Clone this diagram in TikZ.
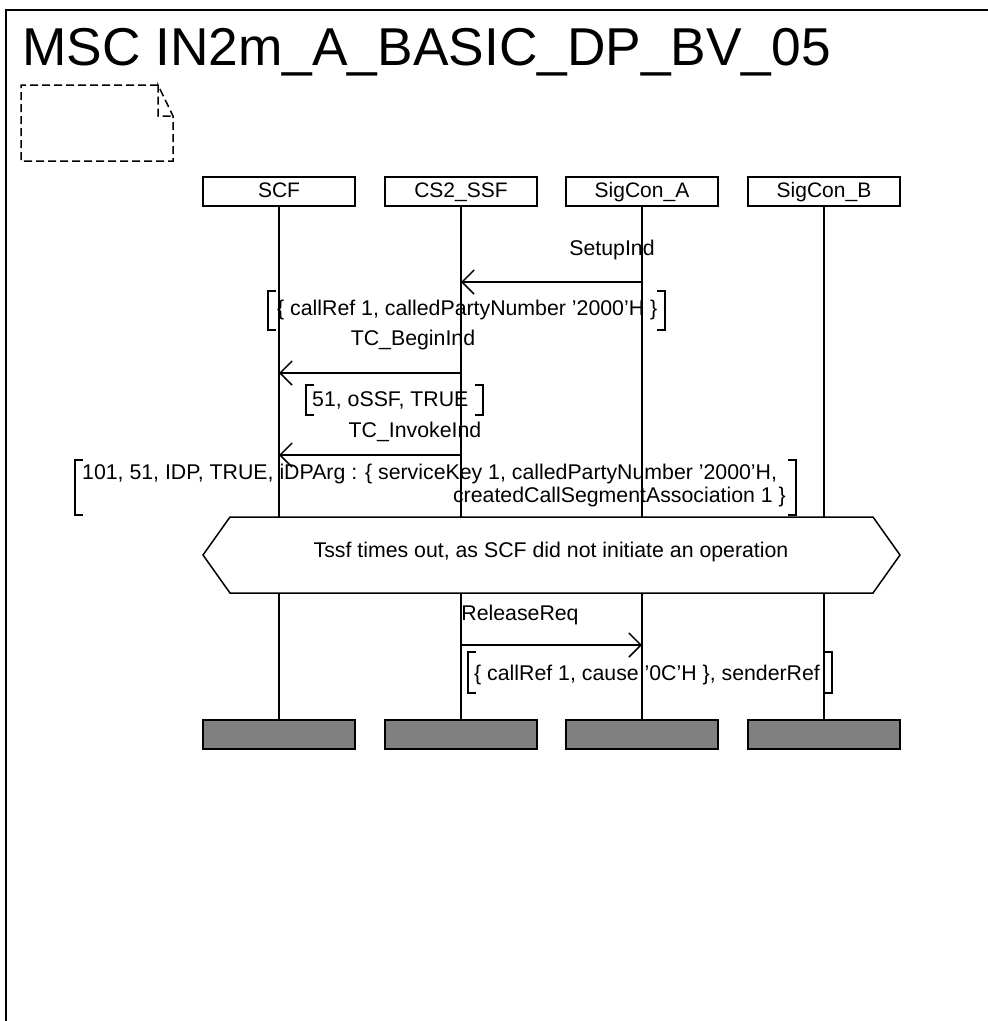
\documentclass[tikz,border=0pt]{standalone}
\usepackage{fontspec}
\setmainfont{Liberation Sans}
\usetikzlibrary{arrows.meta}
\begin{document}
\begin{tikzpicture}[x=1pt,y=-1pt,
  lbl/.style={inner sep=0pt, font=\fontsize{21.3}{23}\selectfont},
  inst/.style={draw, line width=1.5pt, minimum width=152pt, minimum height=29pt, inner sep=0pt, text height=15pt, text depth=4pt, font=\fontsize{21}{23}\selectfont},
  endbox/.style={draw, line width=1.5pt, fill=black!50, minimum width=152pt, minimum height=29pt, inner sep=0pt},
  life/.style={line width=1.5pt},
  msg/.style={line width=1.5pt, -{Straight Barb[length=12pt,width=24pt,line width=1.5pt]}},
  brk/.style={line width=1.5pt},
  cmt/.style={line width=1.5pt, dash pattern=on 8pt off 4pt}]
\useasboundingbox (0,0) rectangle (988,1021);
% frame
\draw[line width=2pt] (6,1021) -- (6,10) -- (988,10);
\node[anchor=base west, inner sep=0pt, font=\fontsize{53.3}{60}\selectfont] (title) at (22,65) {MSC IN2m\_A\_BASIC\_DP\_BV\_05};
% comment symbol
\draw[cmt] (158,85) -- (21,85) -- (21,161) -- (173,161) -- (173,116) -- (158,85) -- (158,116) -- (173,116);
% instance heads
\node[inst] (scf) at (279,191.5) {SCF};
\node[inst] (ssf) at (461,191.5) {CS2\_SSF};
\node[inst] (sa) at (642,191.5) {SigCon\_A};
\node[inst] (sb) at (824,191.5) {SigCon\_B};
% instance ends
\node[endbox] (scfe) at (279,734.5) {};
\node[endbox] (ssfe) at (461,734.5) {};
\node[endbox] (sae) at (642,734.5) {};
\node[endbox] (sbe) at (824,734.5) {};
% lifelines
\draw[life] (scf.south) -- (scfe.north);
\draw[life] (ssf.south) -- (ssfe.north);
\draw[life] (sa.south) -- (sae.north);
\draw[life] (sb.south) -- (sbe.north);
% message coordinates
\coordinate (m1s) at (642,282);
\coordinate (m1e) at (461,282);
\coordinate (m2s) at (461,373);
\coordinate (m2e) at (279,373);
\coordinate (m3s) at (461,455);
\coordinate (m3e) at (279,455);
\coordinate (m4s) at (461,645);
\coordinate (m4e) at (642,645);
% SetupInd
\node[lbl] (l1) at (612,250) {SetupInd};
\draw[msg] (m1s) -- (m1e);
\draw[brk] (276,291) -- (268,291) -- (268,330) -- (276,330);
\draw[brk] (657,291) -- (665,291) -- (665,330) -- (657,330);
\node[lbl, anchor=west] (p1) at (277,310) {\{ callRef 1, calledPartyNumber ’2000’H \}};
% TC_BeginInd
\node[lbl] (l2) at (413,340) {TC\_BeginInd};
\draw[msg] (m2s) -- (m2e);
\draw[brk] (314,385) -- (306,385) -- (306,415) -- (314,415);
\draw[brk] (475,385) -- (483,385) -- (483,415) -- (475,415);
\node[lbl, anchor=west] (p2) at (312,400) {51, oSSF, TRUE};
% TC_InvokeInd
\node[lbl] (l3) at (415,432) {TC\_InvokeInd};
\draw[msg] (m3s) -- (m3e);
\draw[brk] (83,460) -- (75,460) -- (75,515) -- (83,515);
\draw[brk] (788,460) -- (796,460) -- (796,515) -- (788,515);
\node[lbl, anchor=west] (p3a) at (82,474) {101, 51, IDP, TRUE, iDPArg : \{ serviceKey 1, calledPartyNumber ’2000’H,};
\node[lbl, anchor=east] (p3b) at (786,497) {createdCallSegmentAssociation 1 \}};
% condition
\draw[line width=1.5pt, fill=white] (230,517) -- (873,517) -- (900,555) -- (873,593) -- (230,593) -- (203,555) -- cycle;
\node[lbl] (cond) at (551,552) {Tssf times out, as SCF did not initiate an operation};
% ReleaseReq
\node[lbl] (l4) at (520,615) {ReleaseReq};
\draw[msg] (m4s) -- (m4e);
\draw[brk] (476,652) -- (468,652) -- (468,693) -- (476,693);
\draw[brk] (824,652) -- (832,652) -- (832,693) -- (824,693);
\node[lbl, anchor=west] (p4) at (474,675) {\{ callRef 1, cause ’0C’H \}, senderRef};
\end{tikzpicture}
\end{document}
